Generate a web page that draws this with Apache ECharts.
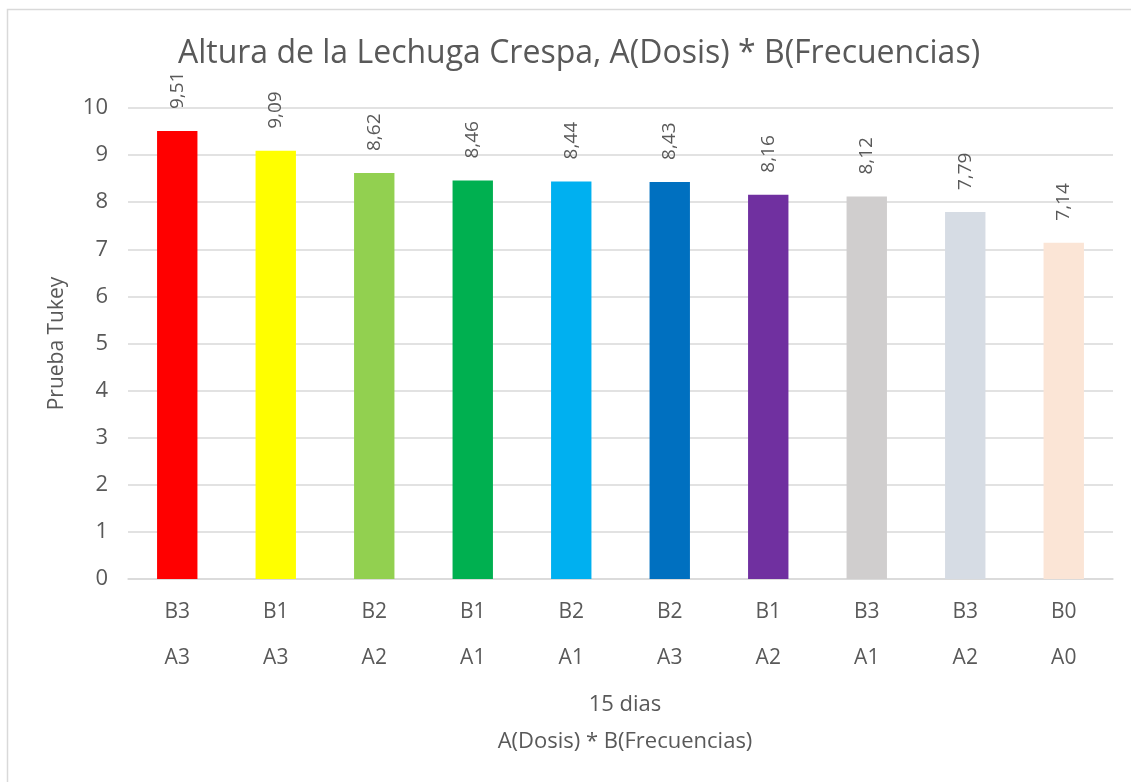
<!DOCTYPE html>
<html>
<head>
<meta charset="utf-8">
<script src="https://cdn.jsdelivr.net/npm/echarts@6/dist/echarts.min.js"></script>
<style>
  html, body { margin: 0; padding: 0; background: #fff; }
  #chart { width: 1131px; height: 782px; }
</style>
</head>
<body>
<div id="chart"></div>
<script>
// two-level category labels (Excel style)
const bLabels = ['B3', 'B1', 'B2', 'B1', 'B2', 'B2', 'B1', 'B3', 'B3', 'B0']
const aLabels = ['A3', 'A3', 'A2', 'A1', 'A1', 'A3', 'A2', 'A1', 'A2', 'A0']
const values = [9.51, 9.09, 8.62, 8.46, 8.44, 8.43, 8.16, 8.12, 7.79, 7.14]
const barColors = ['#FF0000', '#FFFF00', '#92D050', '#00B050', '#00B0F0', '#0070C0', '#7030A0', '#D0CECE', '#D6DCE4', '#FBE5D6']

const FONT = '"Open Sans", sans-serif'
const TEXT = '#595959'

const chart = echarts.init(document.getElementById('chart'))

chart.setOption({
  backgroundColor: '#fff',
  animation: false,
  textStyle: { fontFamily: FONT },
  title: [
    {
      text: 'Altura de la Lechuga Crespa, A(Dosis) * B(Frecuencias)',
      left: 574,
      textAlign: 'center',
      top: 33,
      textStyle: { fontFamily: FONT, fontSize: 32, fontWeight: 'normal', color: TEXT },
    },
    {
      text: '15 dias',
      left: 620,
      textAlign: 'center',
      top: 689,
      textStyle: { fontFamily: FONT, fontSize: 22, fontWeight: 'normal', color: TEXT },
    },
    {
      text: 'A(Dosis) * B(Frecuencias)',
      left: 620,
      textAlign: 'center',
      top: 726,
      textStyle: { fontFamily: FONT, fontSize: 22, fontWeight: 'normal', color: TEXT },
    },
  ],
  // chart border (only left/top edges fall inside the picture)
  graphic: [
    {
      type: 'rect',
      shape: { x: 7.5, y: 9.5, width: 1140, height: 800 },
      style: { fill: 'none', stroke: '#D9D9D9', lineWidth: 1.5 },
      silent: true,
    },
  ],
  grid: { left: 128, right: 18, top: 108, bottom: 203, containLabel: false },
  xAxis: {
    type: 'category',
    data: bLabels.map((b, i) => b + '\n' + aLabels[i]),
    axisLine: { lineStyle: { color: '#D9D9D9', width: 1.5 } },
    axisTick: { show: false },
    axisLabel: {
      color: TEXT,
      fontSize: 21,
      lineHeight: 46,
      margin: 10,
      interval: 0,
    },
  },
  yAxis: {
    type: 'value',
    min: 0,
    max: 10,
    interval: 1,
    name: 'Prueba Tukey',
    nameLocation: 'middle',
    nameGap: 60,
    nameTextStyle: { color: TEXT, fontSize: 21 },
    axisLine: { show: false },
    axisTick: { show: false },
    axisLabel: { color: TEXT, fontSize: 22, margin: 20 },
    splitLine: { lineStyle: { color: '#D9D9D9', width: 1.5 } },
  },
  series: [
    {
      type: 'bar',
      barWidth: '41%',
      data: values.map((v, i) => ({ value: v, itemStyle: { color: barColors[i] } })),
      label: {
        show: true,
        position: 'top',
        rotate: 90,
        align: 'left',
        verticalAlign: 'middle',
        distance: 22,
        color: TEXT,
        fontSize: 19,
        formatter: (p) => p.value.toFixed(2).replace('.', ','),
      },
    },
  ],
})
</script>
</body>
</html>
